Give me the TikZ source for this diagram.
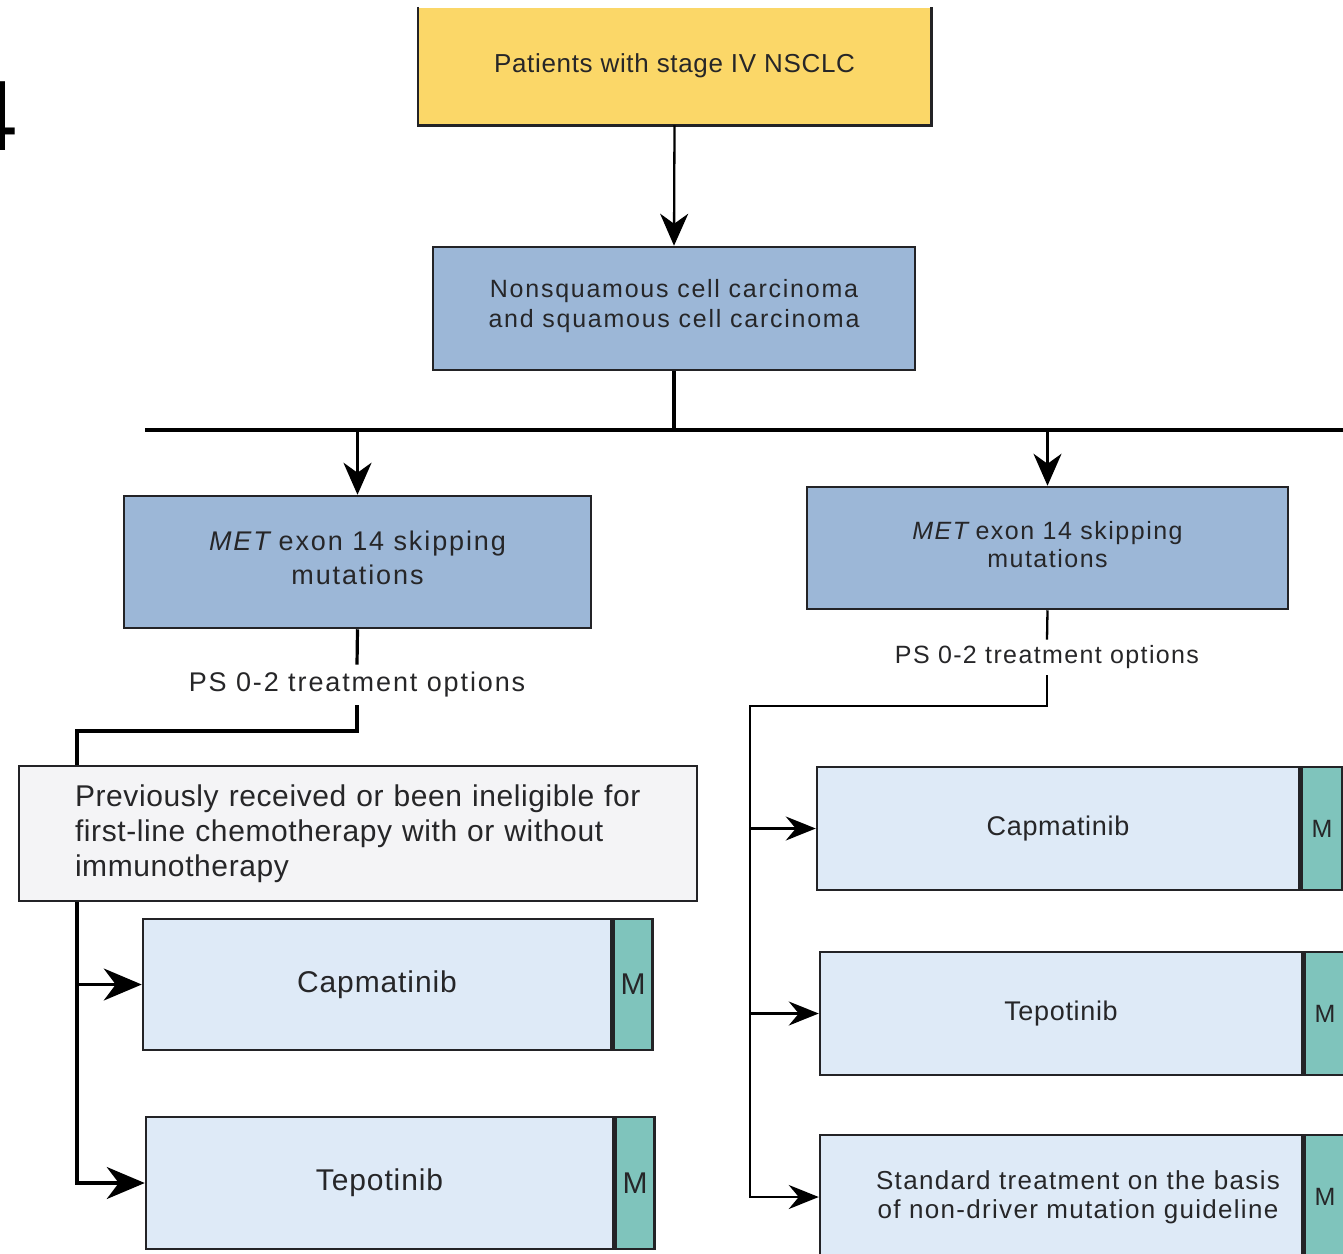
\documentclass[tikz,border=0pt]{standalone}
\usepackage{fontspec}
\setmainfont{Liberation Sans}
\usetikzlibrary{arrows.meta}

\definecolor{ink}{RGB}{38,38,40}
\definecolor{edge}{RGB}{35,35,38}
\definecolor{gold}{RGB}{251,215,104}
\definecolor{steel}{RGB}{156,183,215}
\definecolor{pale}{RGB}{222,234,247}
\definecolor{mcell}{RGB}{127,196,188}
\definecolor{mist}{RGB}{244,244,246}

% size, baseline skip, tracking
\newcommand\sz[3]{\fontsize{#1}{#2}\selectfont\addfontfeature{LetterSpace=#3}}

\tikzset{
  box/.style={draw=edge, line width=1.25pt, inner sep=0pt, text=ink, align=center},
  lbl/.style={inner sep=0pt, text=ink, align=center},
  wire/.style={draw=black, line width=1.6pt},
  thinwire/.style={draw=black, line width=1.15pt},
  tipA/.style={-{Stealth[length=16pt,width=14pt,inset=5pt]}},
  tipB/.style={-{Stealth[length=19pt,width=16pt,inset=6pt]}},
  tipC/.style={-{Stealth[length=15pt,width=12pt,inset=5pt]}},
}

\begin{document}
\begin{tikzpicture}[x=0.5pt,y=-0.5pt]
\useasboundingbox (0,0) rectangle (1343,1253);

% figure number, partly off the page
\node[anchor=base west, inner sep=0pt, font=\fontsize{50}{50}\selectfont] (fignum) at (-37.5,150) {4};

% top of the tree
\node[box, draw=none, fill=gold, minimum width=255.5pt, minimum height=58pt, font={\sz{13}{15}{2.6}}] (top) at (674.5,66)
  {Patients with stage IV NSCLC};
\draw[draw=edge, line width=1.25pt] (top.north west) -- (top.south west) -- (top.south east) -- (top.north east);

\node[box, fill=steel, minimum width=241pt, minimum height=61.5pt, font={\sz{12.5}{15}{7}}] (nsq) at (674,308.5)
  {Nonsquamous cell carcinoma\\and squamous cell carcinoma\rule[-5pt]{0pt}{0pt}};

% two branches
\node[box, fill=steel, minimum width=233.5pt, minimum height=66pt, font={\sz{13.5}{17}{7}}] (metL) at (357.5,562)
  {\textit{MET}\hspace{-2pt} exon 14 skipping\\mutations\rule[-4pt]{0pt}{0pt}};
\node[box, fill=steel, minimum width=240.5pt, minimum height=61pt, font={\sz{12.5}{14}{6}}] (metR) at (1047.5,548)
  {\textit{MET}\hspace{-2pt} exon 14 skipping\\mutations\rule[-4pt]{0pt}{0pt}};

\node[lbl, minimum height=20pt, font={\sz{13.5}{15}{7}}] (psL) at (357,685) {PS 0-2 treatment options};
\node[lbl, minimum height=17.5pt, font={\sz{12.5}{14}{5.5}}] (psR) at (1047,657.5) {PS 0-2 treatment options};

% left branch
\node[box, fill=mist, minimum width=339pt, minimum height=67.5pt, align=left, text width=283pt,
      inner xsep=28pt, font={\sz{15}{17.5}{2}}] (prev) at (358,833.5)
  {Previously received or been ineligible for\\first-line chemotherapy with or without\\immunotherapy};

\node[box, fill=pale, minimum width=234pt, minimum height=65.5pt, font={\sz{15}{17}{3}}] (capL) at (377,984.5)
  {Capmatinib};
\node[box, fill=mcell, minimum width=19.5pt, minimum height=65.5pt, anchor=west, font={\sz{15}{17}{0}}] (capLm) at (capL.east)
  {M};
\node[box, fill=pale, minimum width=233.5pt, minimum height=66pt, font={\sz{15}{17}{3}}] (tepL) at (379.5,1183)
  {Tepotinib};
\node[box, fill=mcell, minimum width=19.5pt, minimum height=66pt, anchor=west, font={\sz{15}{17}{0}}] (tepLm) at (tepL.east)
  {M};

% right branch
\node[box, fill=pale, minimum width=241pt, minimum height=61.5pt, font={\sz{13.5}{15}{2.5}}] (capR) at (1058,828.5)
  {Capmatinib};
\node[box, fill=mcell, minimum width=20.5pt, minimum height=61.5pt, anchor=west, font={\sz{12.5}{14}{0}}] (capRm) at (capR.east)
  {M};
\node[box, fill=pale, minimum width=241pt, minimum height=61.5pt, font={\sz{13.5}{15}{2.5}}] (tepR) at (1061,1013.5)
  {Tepotinib};
\node[box, fill=mcell, minimum width=20.5pt, minimum height=61.5pt, anchor=west, font={\sz{12.5}{14}{0}}] (tepRm) at (tepR.east)
  {M};
\node[box, fill=pale, minimum width=241pt, minimum height=62pt] (std) at (1061,1197) {};
\node[lbl, font={\sz{13}{14.5}{5}}] (stdtxt) at (1078,1197)
  {Standard treatment on the basis\\of non-driver mutation guideline};
\node[box, fill=mcell, minimum width=20.5pt, minimum height=62pt, anchor=west, font={\sz{12.5}{14}{0}}] (stdm) at (std.east)
  {M};

% connectors
\coordinate (railL) at (145,430);
\coordinate (railR) at (1360,430);
\coordinate (jL) at (77,731);
\coordinate (jR) at (750,706);

\draw[thinwire, tipA] (top.south) -- (nsq.north);
\draw[wire] (nsq.south) -- (nsq.south |- railL);
\draw[wire] (railL) -- (railR);
\draw[wire, tipA] (metL.north |- railL) -- (metL.north);
\draw[thinwire, tipA] (metR.north |- railL) -- (metR.north);

\draw[wire] (metL.south) -- (psL.north);
\draw[wire] (psL.south) |- (jL) -- (prev.north -| jL);
\draw[wire, tipB] (prev.south -| jL) |- (tepL.west);
\draw[wire, tipB] (capL.west -| jL) -- (capL.west);

\draw[thinwire] (metR.south) -- (psR.north);
\draw[thinwire, tipC] (psR.south) |- (jR) |- (std.west);
\draw[thinwire, tipC] (capR.west -| jR) -- (capR.west);
\draw[thinwire, tipC] (tepR.west -| jR) -- (tepR.west);
\end{tikzpicture}
\end{document}
